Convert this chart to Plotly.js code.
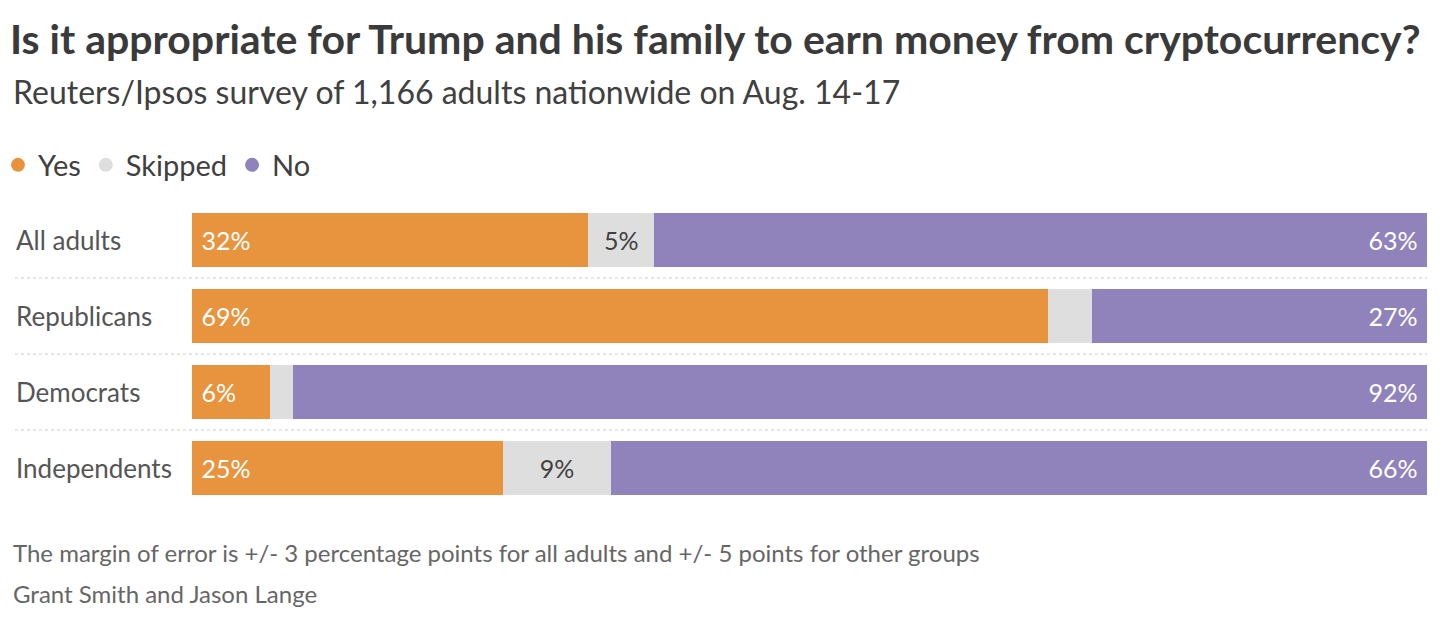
<!DOCTYPE html>
<html>
<head>
<meta charset="utf-8">
<script src="https://cdn.plot.ly/plotly-3.0.1.min.js"></script>
<style>
  html, body { margin: 0; padding: 0; background: #fff; }
  #chart { width: 1446px; height: 622px; }
</style>
</head>
<body>
<div id="chart"></div>
<script>
// Survey groups and answers (percent; labels are rounded)
var groups = ["All adults", "Republicans", "Democrats", "Independents"];
var yesValues = [32.1, 69.3, 6.3, 25.2];
var skippedValues = [5.3, 3.6, 1.9, 8.7];
var noValues = [62.6, 27.1, 91.8, 66.1];

var FONT = "Lato, 'Noto Sans', sans-serif";
var colors = { yes: "#e8943f", skipped: "#dedede", no: "#9083bc" };

function pct(v) { return Math.round(v) + "%"; }

var yesTrace = {
  type: "bar",
  orientation: "h",
  name: "Yes",
  y: groups,
  x: yesValues,
  marker: { color: colors.yes },
  text: yesValues.map(function (v) { return "\u00a0" + pct(v); }),
  textposition: "inside",
  insidetextanchor: "start",
  textangle: 0,
  insidetextfont: { color: "#ffffff", size: 25, family: FONT },
  hoverinfo: "skip",
  showlegend: false,
};

var skippedTrace = {
  type: "bar",
  orientation: "h",
  name: "Skipped",
  y: groups,
  x: skippedValues,
  marker: { color: colors.skipped },
  // only label the skipped share where it fits
  text: skippedValues.map(function (v) { return v >= 5 ? pct(v) : ""; }),
  textposition: "inside",
  insidetextanchor: "middle",
  textangle: 0,
  insidetextfont: { color: "#404040", size: 25, family: FONT },
  hoverinfo: "skip",
  showlegend: false,
};

var noTrace = {
  type: "bar",
  orientation: "h",
  name: "No",
  y: groups,
  x: noValues,
  marker: { color: colors.no },
  text: noValues.map(function (v) { return pct(v) + "\u00a0"; }),
  textposition: "inside",
  insidetextanchor: "end",
  textangle: 0,
  insidetextfont: { color: "#ffffff", size: 25, family: FONT },
  hoverinfo: "skip",
  showlegend: false,
};

// legend entries drawn as dots
function legendDot(name, color) {
  return {
    type: "scatter",
    mode: "markers",
    name: name,
    x: [null],
    y: [null],
    marker: { color: color, size: 14, symbol: "circle" },
    hoverinfo: "skip",
  };
}

var separators = [0.5, 1.5, 2.5].map(function (y) {
  return {
    type: "line",
    xref: "paper",
    yref: "y",
    x0: (15 - 192) / 1235,
    x1: 1,
    y0: y,
    y1: y,
    line: { color: "#cccccc", width: 1, dash: "dot" },
  };
});

var labelAnnotations = groups.map(function (g) {
  return {
    xref: "paper",
    yref: "y",
    x: (14 - 192) / 1235,
    y: g,
    xanchor: "left",
    yanchor: "middle",
    text: g,
    showarrow: false,
    font: { family: FONT, size: 26, color: "#555555" },
  };
});

var notes = [
  {
    text: "Reuters/Ipsos survey of 1,166 adults nationwide on Aug. 14-17",
    y: 92, size: 32, color: "#404040",
  },
  {
    text: "The margin of error is +/- 3 percentage points for all adults and +/- 5 points for other groups",
    y: 552, size: 24, color: "#666666",
  },
  {
    text: "Grant Smith and Jason Lange",
    y: 593, size: 24, color: "#666666",
  },
].map(function (n) {
  return {
    xref: "paper",
    yref: "paper",
    x: (11 - 192) / 1235,
    y: (506 - n.y) / 304,
    xanchor: "left",
    yanchor: "middle",
    text: n.text,
    showarrow: false,
    font: { family: FONT, size: n.size, color: n.color },
  };
});

var layout = {
  width: 1446,
  height: 622,
  margin: { l: 192, r: 19, t: 202, b: 116, pad: 0, autoexpand: false },
  paper_bgcolor: "#ffffff",
  plot_bgcolor: "#ffffff",
  font: { family: FONT, color: "#404040" },
  barmode: "stack",
  bargap: 0.29,
  title: {
    text: "<b>Is it appropriate for Trump and his family to earn money from cryptocurrency?</b>",
    font: { family: FONT, size: 41, color: "#3a3a3a" },
    xref: "container",
    yref: "container",
    x: 10 / 1446,
    xanchor: "left",
    y: 1 - 40 / 622,
    yanchor: "middle",
  },
  xaxis: {
    range: [0, 100],
    visible: false,
    fixedrange: true,
  },
  yaxis: {
    autorange: "reversed",
    showticklabels: false,
    showgrid: false,
    zeroline: false,
    showline: false,
    ticks: "",
    fixedrange: true,
  },
  showlegend: true,
  legend: {
    orientation: "h",
    traceorder: "normal",
    x: (-2 - 192) / 1235,
    xanchor: "left",
    y: (506 - 165) / 304,
    yanchor: "middle",
    font: { family: FONT, size: 29, color: "#404040" },
    itemwidth: 30,
    tracegroupgap: 0,
    bgcolor: "rgba(0,0,0,0)",
  },
  shapes: separators,
  annotations: labelAnnotations.concat(notes),
};

Plotly.newPlot(
  "chart",
  [yesTrace, skippedTrace, noTrace,
   legendDot("Yes", colors.yes), legendDot("Skipped", colors.skipped), legendDot("No", colors.no)],
  layout,
  { displayModeBar: false, staticPlot: true }
);
</script>
</body>
</html>
